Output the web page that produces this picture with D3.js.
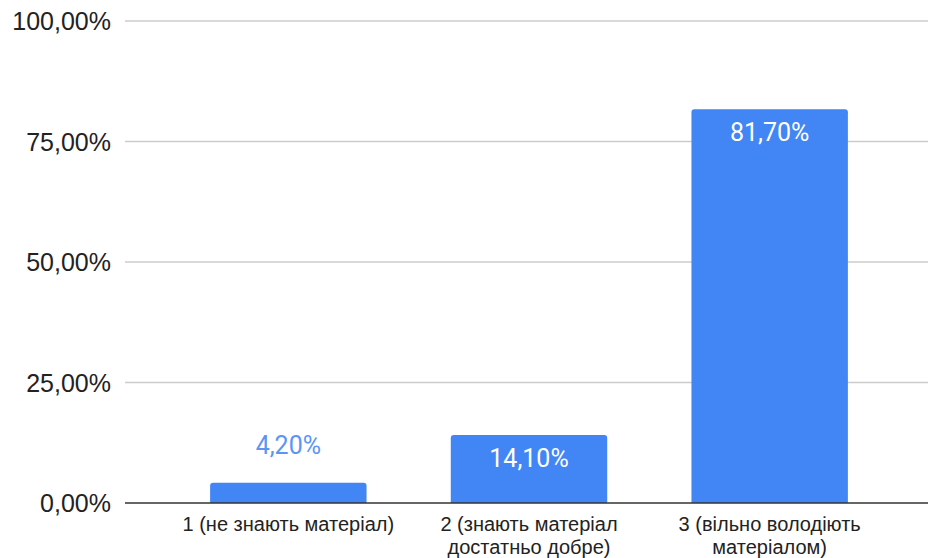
<!DOCTYPE html>
<html>
<head>
<meta charset="utf-8">
<script src="https://cdn.jsdelivr.net/npm/d3@7"></script>
<style>
  body { margin: 0; background: #fff; }
  svg { display: block; }
</style>
</head>
<body>
<div id="chart"></div>
<script>
// data
var categories = ["1", "2", "3"];
var categoryLabels = [
    ["1 (не знають матеріал)"],
    ["2 (знають матеріал", "достатньо добре)"],
    ["3 (вільно володіють", "матеріалом)"]
];
var values = [0.042, 0.141, 0.817];
var yTicks = [0, 0.25, 0.5, 0.75, 1];

var width = 928, height = 558;

var svg = d3.select("#chart")
    .append("svg")
    .attr("width", width)
    .attr("height", height)

var x = d3.scaleBand()
    .domain(categories)
    .range([168, 890])
    .paddingInner(0.35)
    .paddingOuter(0.175)

var y = d3.scaleLinear()
    .domain([0, 1])
    .range([503, 21])

var fmt = function(v){
    return d3.format(".2f")(v * 100).replace(".", ",") + "%"
}

// gridlines
svg.selectAll(".grid")
    .data(yTicks.filter(function(d){ return d > 0 }))
    .enter().append("line")
        .attr("class", "grid")
        .attr("x1", 125)
        .attr("x2", width)
        .attr("y1", function(d){ return y(d) })
        .attr("y2", function(d){ return y(d) })
        .attr("stroke", "#cccccc")
        .attr("stroke-width", 1.5)

// y tick labels
svg.selectAll(".ytick")
    .data(yTicks)
    .enter().append("text")
        .attr("class", "ytick")
        .attr("x", 111)
        .attr("y", function(d){ return y(d) })
        .attr("dy", "0.36em")
        .attr("text-anchor", "end")
        .attr("font-family", "Liberation Sans, Arial, sans-serif")
        .attr("font-size", 25)
        .attr("fill", "#222222")
        .text(fmt)

// bars (rounded top corners)
var r = 3;
svg.selectAll(".bar")
    .data(values)
    .enter().append("path")
        .attr("class", "bar")
        .attr("fill", "#4285f4")
        .attr("d", function(d, i){
            var x0 = x(categories[i]), x1 = x0 + x.bandwidth();
            var y0 = y(0), y1 = y(d);
            return "M" + x0 + "," + y0 +
                "V" + (y1 + r) +
                "Q" + x0 + "," + y1 + " " + (x0 + r) + "," + y1 +
                "H" + (x1 - r) +
                "Q" + x1 + "," + y1 + " " + x1 + "," + (y1 + r) +
                "V" + y0 + "Z"
        })

// baseline
svg.append("line")
    .attr("x1", 125)
    .attr("x2", width)
    .attr("y1", y(0))
    .attr("y2", y(0))
    .attr("stroke", "#333333")
    .attr("stroke-width", 1.5)

// value labels
svg.selectAll(".val")
    .data(values)
    .enter().append("text")
        .attr("class", "val")
        .attr("x", function(d, i){ return x(categories[i]) + x.bandwidth() / 2 })
        .attr("y", function(d){
            var h = y(0) - y(d);
            return h > 45 ? y(d) + 23 : y(d) - 38
        })
        .attr("dy", "0.36em")
        .attr("text-anchor", "middle")
        .attr("font-family", "Roboto, sans-serif")
        .attr("font-size", 25)
        .attr("fill", function(d){ return (y(0) - y(d)) > 45 ? "#ffffff" : "#5b95f5" })
        .text(fmt)

// category labels
var cat = svg.selectAll(".cat")
    .data(categoryLabels)
    .enter().append("text")
        .attr("class", "cat")
        .attr("text-anchor", "middle")
        .attr("font-family", "Liberation Sans, Arial, sans-serif")
        .attr("font-size", 20)
        .attr("fill", "#222222")

cat.selectAll("tspan")
    .data(function(d, i){ return d.map(function(t){ return {t: t, i: i} }) })
    .enter().append("tspan")
        .attr("x", function(d){ return x(categories[d.i]) + x.bandwidth() / 2 })
        .attr("y", function(d, j){ return 531 + j * 22.5 })
        .text(function(d){ return d.t })
</script>
</body>
</html>
